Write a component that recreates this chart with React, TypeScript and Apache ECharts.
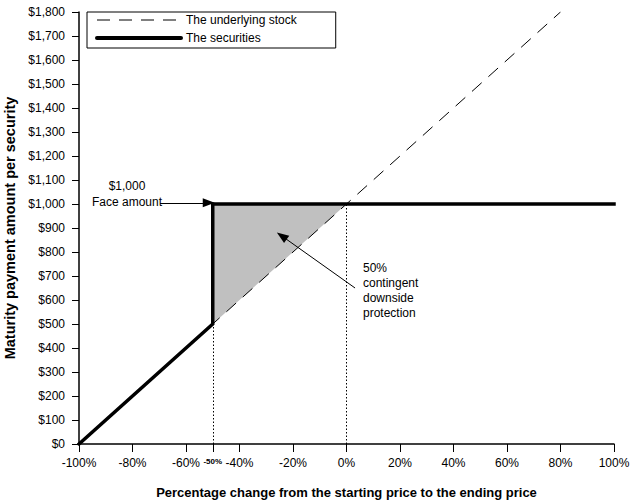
import React, { useEffect, useRef } from "react";
import * as echarts from "echarts";

const xTicks = [-100, -80, -60, -50, -40, -20, 0, 20, 40, 60, 80, 100];
const underlying = [[-100, 0], [80, 1800]];
const securities = [[-100, 0], [-50, 500], [-50, 1000], [100, 1000]];
const protectionArea = [[-50, 500], [-50, 1000], [0, 1000]];
const dottedLines = [
  [[-50, 0], [-50, 1000]],
  [[0, 0], [0, 1000]],
];
const arrows = [
  [[-69.7, 1005], [-51.5, 1005]],
  [[3.2, 650], [-24.2, 867]],
];
const seriesNames = ["The underlying stock", "The securities"];

export default function App() {
  const ref = useRef<HTMLDivElement>(null);
  useEffect(() => {
    document.body.style.margin = "0";
    const chart = echarts.init(ref.current!, null, { renderer: "svg" });
    const font = "'Liberation Sans', Arial, sans-serif";
    chart.setOption({
      animation: false,
      textStyle: { fontFamily: font },
      grid: { left: 79, right: 21, top: 12, bottom: 60, outerBoundsMode: "none", containLabel: false },
      legend: {
        left: 87,
        top: 12,
        orient: "vertical",
        data: [
          { name: seriesNames[0], lineStyle: { width: 1.2, type: [13, 9] } },
          { name: seriesNames[1], lineStyle: { width: 4, cap: "round" } },
        ],
        borderColor: "#000",
        borderWidth: 1,
        borderRadius: 0,
        padding: [2, 39, 4, 8],
        itemGap: 6,
        itemWidth: 84,
        itemHeight: 12,
        itemStyle: { opacity: 0 },
        textStyle: { fontSize: 12, color: "#000", fontFamily: font },
        backgroundColor: "#fff",
      },
      xAxis: {
        type: "value",
        min: -100,
        max: 100,
        interval: 20,
        splitLine: { show: false },
        axisLine: { onZero: false, lineStyle: { color: "#000", width: 1.5 } },
        axisTick: {
          length: 8,
          lineStyle: { color: "#000", width: 1 },
          customValues: xTicks,
        },
        axisLabel: {
          customValues: xTicks,
          margin: 13,
          fontSize: 12,
          color: "#000",
          fontFamily: font,
          formatter: (v: number) => (v === -50 ? "{s|-50%}" : v + "%"),
          rich: { s: { fontSize: 8, fontWeight: "bold", color: "#000", fontFamily: font } },
        },
        name: "Percentage change from the starting price to the ending price",
        nameLocation: "middle",
        nameGap: 42,
        nameTextStyle: { fontSize: 13, fontWeight: "bold", color: "#000", fontFamily: font },
      },
      yAxis: {
        type: "value",
        min: 0,
        max: 1800,
        interval: 100,
        splitLine: { show: false },
        axisLine: { show: true, onZero: false, lineStyle: { color: "#000", width: 1.5 } },
        axisTick: { show: true, length: 7, lineStyle: { color: "#000" } },
        axisLabel: {
          margin: 14,
          fontSize: 12,
          color: "#000",
          fontFamily: font,
          formatter: (v: number) => "$" + v.toLocaleString("en-US"),
        },
        name: "Maturity payment amount per security",
        nameLocation: "middle",
        nameGap: 60,
        nameTextStyle: { fontSize: 14.5, fontWeight: "bold", color: "#000", fontFamily: font },
      },
      series: [
        {
          type: "custom",
          name: "area",
          silent: true,
          data: [0],
          renderItem: (params: any, api: any) => ({
            type: "polygon",
            shape: { points: protectionArea.map((p) => api.coord(p)) },
            style: { fill: "#c0c0c0" },
          }),
          z: 1,
        },
        {
          type: "line",
          name: seriesNames[0],
          data: underlying,
          symbol: "none",
          lineStyle: { color: "#000", width: 1, type: [13, 9] },
          itemStyle: { color: "#000" },
          z: 2,
          markLine: {
            silent: true,
            symbol: ["none", "none"],
            label: { show: false },
            lineStyle: { color: "#000", width: 1, type: [1.5, 2] },
            data: dottedLines.map((l) => [{ coord: l[0] }, { coord: l[1] }]),
          },
        },
        {
          type: "line",
          name: seriesNames[1],
          data: securities,
          symbol: "none",
          lineStyle: { color: "#000", width: 3.5, cap: "square", join: "miter" },
          itemStyle: { color: "#000" },
          z: 3,
          markLine: {
            silent: true,
            symbol: ["none", "triangle"],
            symbolSize: [9, 12],
            label: { show: false },
            lineStyle: { color: "#000", width: 1, type: "solid" },
            data: arrows.map((l) => [{ coord: l[0] }, { coord: l[1] }]),
          },
        },
      ],
      graphic: [
        {
          type: "text",
          x: 127,
          y: 194,
          style: {
            text: "$1,000\nFace amount",
            fontSize: 12,
            lineHeight: 16,
            fontFamily: font,
            fill: "#000",
            align: "center",
            verticalAlign: "middle",
          },
          z: 100,
        },
        {
          type: "text",
          x: 363,
          y: 260,
          style: {
            text: "50%\ncontingent\ndownside\nprotection",
            fontSize: 12,
            lineHeight: 15,
            fontFamily: font,
            fill: "#000",
            align: "left",
            verticalAlign: "top",
          },
          z: 100,
        },
      ],
    });
    return () => chart.dispose();
  }, []);
  return <div ref={ref} style={{ width: 635, height: 504 }} />;
}
